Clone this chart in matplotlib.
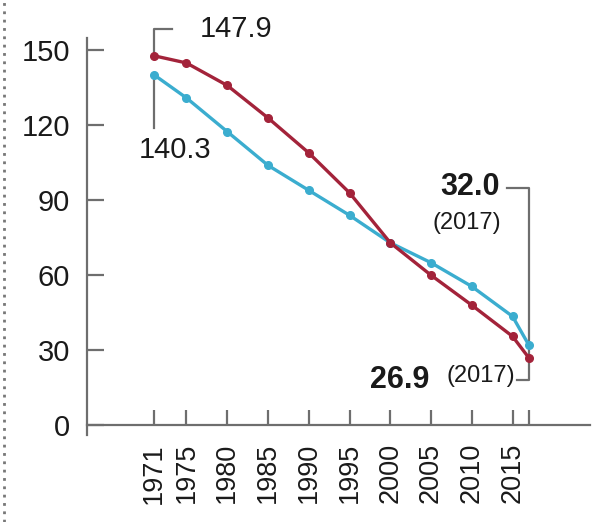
import matplotlib
matplotlib.use("Agg")
import matplotlib.pyplot as plt
from matplotlib.lines import Line2D

plt.rcParams["font.family"] = ["Liberation Sans", "DejaVu Sans"]

years = [1971, 1975, 1980, 1985, 1990, 1995, 2000, 2005, 2010, 2015, 2017]
tick_labels = ["1971", "1975", "1980", "1985", "1990", "1995", "2000", "2005", "2010", "2015", ""]
red_values = [147.9, 145.0, 136.0, 123.0, 109.0, 93.0, 73.0, 60.0, 48.0, 35.5, 26.9]
blue_values = [140.3, 131.0, 117.5, 104.0, 94.0, 84.0, 73.0, 65.0, 55.5, 43.5, 32.0]
y_ticks = [0, 30, 60, 90, 120, 150]

RED = "#a3233a"
BLUE = "#3badcf"
GREY = "#6e6e6e"
INK = "#1a1a1a"

fig = plt.figure(figsize=(6.06, 5.22), dpi=100)
ax = fig.add_axes([87 / 606, 87 / 522, 503 / 606, 397 / 522])

ax.plot(years, red_values, color=RED, lw=2.4, marker="o", ms=5.5, zorder=3, clip_on=False)
ax.plot(years, blue_values, color=BLUE, lw=2.4, marker="o", ms=5.5, zorder=2, clip_on=False)

ax.set_xlim(1962.8, 2024.5)
ax.set_ylim(-4, 155)

for side in ["top", "right"]:
    ax.spines[side].set_visible(False)
ax.spines["bottom"].set_position(("data", 0))
for side in ["left", "bottom"]:
    ax.spines[side].set_color(GREY)
    ax.spines[side].set_linewidth(1.6)

ax.set_yticks(y_ticks)
ax.set_yticklabels([str(v) for v in y_ticks])
ax.set_xticks(years)
ax.set_xticklabels(tick_labels, rotation=90)
ax.tick_params(axis="y", direction="in", length=12, width=1.6, color=GREY,
               labelsize=21, pad=12, labelcolor=INK)
ax.tick_params(axis="x", direction="in", length=11, width=1.6, color=GREY,
               labelsize=19.5, pad=13, labelcolor=INK)

# start values, 1971
first_red, first_blue = red_values[0], blue_values[0]
ax.plot([years[0], years[0], 1973.2], [first_red, 158.8, 158.8],
        color=GREY, lw=1.6, clip_on=False, zorder=1)
ax.text(1976.6, 158.5, f"{first_red:.1f}", fontsize=21, ha="left", va="center",
        color=INK, clip_on=False)
ax.plot([years[0], years[0]], [first_blue, 118.8], color=GREY, lw=1.6, zorder=1)
ax.text(1973.6, 110, f"{first_blue:.1f}", fontsize=21, ha="center", va="center",
        color=INK)

# end values, 2017
last_red, last_blue = red_values[-1], blue_values[-1]
ax.plot([2014.3, years[-1], years[-1], 2015.6], [94.8, 94.8, 18, 18],
        color=GREY, lw=1.6, clip_on=False, zorder=1)
ax.text(2013.4, 95.2, f"{last_blue:.1f}", fontsize=22, fontweight="bold",
        ha="right", va="center", color=INK)
ax.text(2013.6, 81.0, f"({years[-1]})", fontsize=17, ha="right", va="center",
        color=INK)
ax.text(2004.8, 18, f"{last_red:.1f}", fontsize=22, fontweight="bold",
        ha="right", va="center", color=INK)
ax.text(2015.3, 19.5, f"({years[-1]})", fontsize=17, ha="right", va="center",
        color=INK)

# dotted page edge on the left
fig.add_artist(Line2D([4 / 606, 4 / 606], [0, 1], color="#777777", lw=2,
                      linestyle=(0, (1, 2))))

fig.savefig("out.png", dpi=100, facecolor="white")
